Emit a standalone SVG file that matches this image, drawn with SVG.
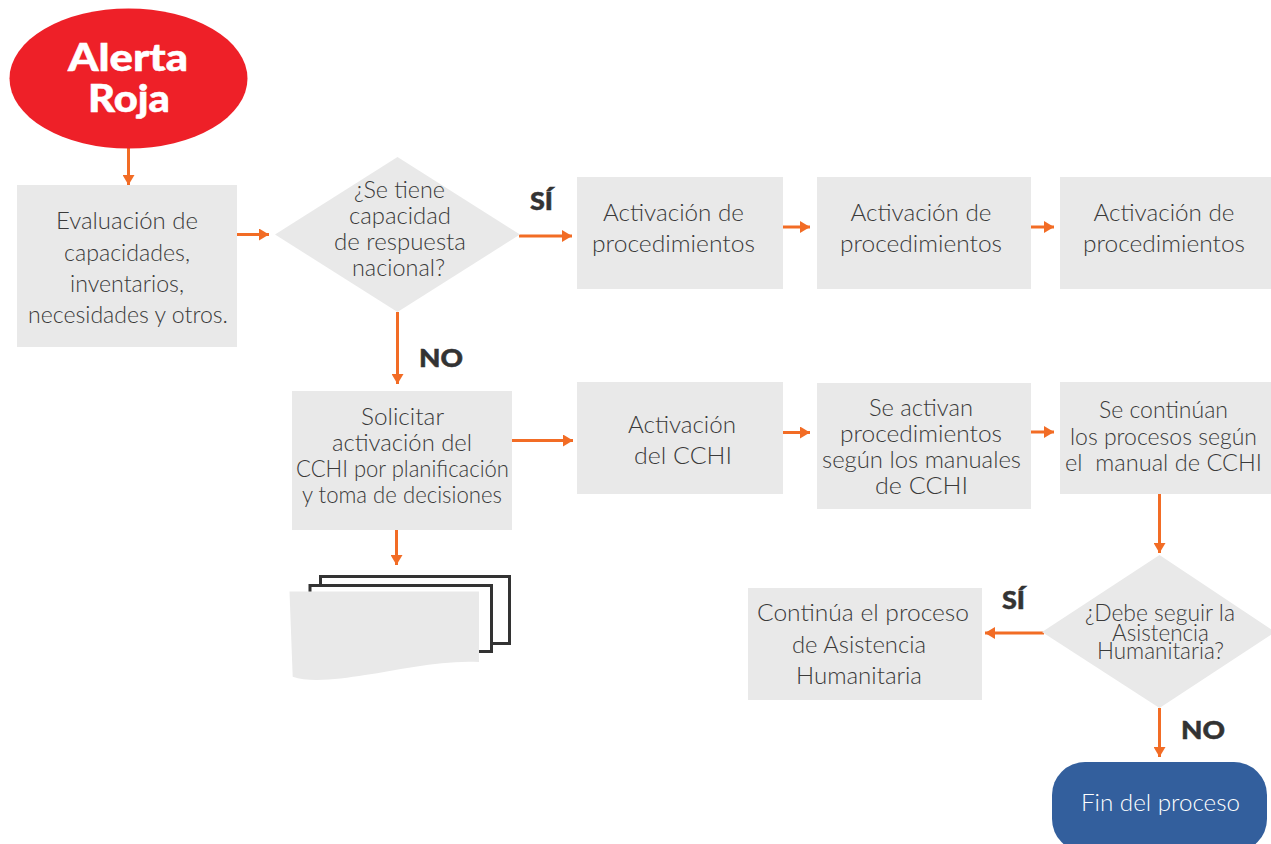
<svg xmlns="http://www.w3.org/2000/svg" width="1271" height="844" viewBox="0 0 1271 844">
<style>
.b{fill:#e9e9e9}
.t{font-family:Lato,"Open Sans","Liberation Sans",sans-serif;font-weight:300;font-size:24px;fill:#3a3a3a;text-anchor:middle;white-space:pre}
.l{font-family:Lato,"Liberation Sans",sans-serif;font-weight:900;font-size:25px;fill:#333;stroke:#333;stroke-width:.5;text-anchor:middle}
.h{font-family:Lato,"Liberation Sans",sans-serif;font-weight:900;font-size:37px;fill:#fff;stroke:#fff;stroke-width:.5;text-anchor:middle}
.c{stroke:#f26c25;stroke-width:3;fill:none;marker-end:url(#a)}
.d{fill:#fff;stroke:#333;stroke-width:3}
</style>
<defs><marker id="a" markerUnits="userSpaceOnUse" markerWidth="12" markerHeight="12" refX="10" refY="6" orient="auto"><path d="M0 0L10 6L0 12Z" fill="#f26c25"/></marker></defs>
<rect width="1271" height="844" fill="#fff"/>
<g id="connectors">
<path class="c" d="M128.500 148V185"/>
<path class="c" d="M237 234.500H269"/>
<path class="c" d="M519 236H572"/>
<path class="c" d="M783 227H810"/>
<path class="c" d="M1031 227H1054"/>
<path class="c" d="M397.500 312V384"/>
<path class="c" d="M512 440.500H573"/>
<path class="c" d="M783 432.500H810"/>
<path class="c" d="M1031 432H1054"/>
<path class="c" d="M396.500 530V565"/>
<path class="c" d="M1159.500 494V553"/>
<path class="c" d="M1044 633H985"/>
<path class="c" d="M1159.500 708V757"/>
</g>
<g id="n-alerta"><ellipse cx="128.500" cy="78.500" rx="119" ry="70" fill="#ee2028"/><text class="h" x="128" y="71" textLength="120" lengthAdjust="spacingAndGlyphs">Alerta</text><text class="h" x="129" y="112" textLength="82" lengthAdjust="spacingAndGlyphs">Roja</text></g>
<g id="n-evaluacion"><rect class="b" x="17" y="185" width="220" height="162"/><text class="t" x="127" y="229" textLength="142" lengthAdjust="spacingAndGlyphs">Evaluación de</text><text class="t" x="127" y="261" textLength="126" lengthAdjust="spacingAndGlyphs">capacidades,</text><text class="t" x="127" y="292" textLength="114" lengthAdjust="spacingAndGlyphs">inventarios,</text><text class="t" x="128" y="323" textLength="200" lengthAdjust="spacingAndGlyphs">necesidades y otros.</text></g>
<g id="n-capacidad"><polygon class="b" points="397.500,157 520,234.500 397.500,312 275,234.500"/><text class="t" x="399.500" y="198" textLength="91" lengthAdjust="spacingAndGlyphs">¿Se tiene</text><text class="t" x="400" y="224" textLength="102" lengthAdjust="spacingAndGlyphs">capacidad</text><text class="t" x="400" y="250" textLength="132" lengthAdjust="spacingAndGlyphs">de respuesta</text><text class="t" x="398.500" y="276" textLength="93" lengthAdjust="spacingAndGlyphs">nacional?</text></g>
<text class="l" x="541.500" y="210" id="l-si1" textLength="23" lengthAdjust="spacingAndGlyphs">SÍ</text>
<g id="n-act1"><rect class="b" x="577" y="177" width="206" height="112"/><text class="t" x="673.500" y="221" textLength="141" lengthAdjust="spacingAndGlyphs">Activación de</text><text class="t" x="673.500" y="252" textLength="163" lengthAdjust="spacingAndGlyphs">procedimientos</text></g>
<g id="n-act2"><rect class="b" x="817" y="177" width="214" height="112"/><text class="t" x="921" y="221" textLength="141" lengthAdjust="spacingAndGlyphs">Activación de</text><text class="t" x="921" y="252" textLength="162" lengthAdjust="spacingAndGlyphs">procedimientos</text></g>
<g id="n-act3"><rect class="b" x="1060" y="177" width="211" height="112"/><text class="t" x="1164" y="221" textLength="141" lengthAdjust="spacingAndGlyphs">Activación de</text><text class="t" x="1164" y="252" textLength="162" lengthAdjust="spacingAndGlyphs">procedimientos</text></g>
<text class="l" x="441" y="367" id="l-no1" textLength="44" lengthAdjust="spacingAndGlyphs">NO</text>
<g id="n-solicitar"><rect class="b" x="292" y="391" width="220" height="139"/><text class="t" x="402.500" y="425" textLength="83" lengthAdjust="spacingAndGlyphs">Solicitar</text><text class="t" x="402" y="451" textLength="140" lengthAdjust="spacingAndGlyphs">activación del</text><text class="t" x="402.500" y="477" textLength="213" lengthAdjust="spacingAndGlyphs">CCHI por planificación</text><text class="t" x="402" y="503" textLength="200" lengthAdjust="spacingAndGlyphs">y toma de decisiones</text></g>
<g id="n-cchi"><rect class="b" x="577" y="382" width="206" height="112"/><text class="t" x="682" y="433" textLength="108" lengthAdjust="spacingAndGlyphs">Activación</text><text class="t" x="683" y="464" textLength="98" lengthAdjust="spacingAndGlyphs">del CCHI</text></g>
<g id="n-manuales"><rect class="b" x="817" y="383" width="214" height="126"/><text class="t" x="921" y="416" textLength="104" lengthAdjust="spacingAndGlyphs">Se activan</text><text class="t" x="921" y="442" textLength="162" lengthAdjust="spacingAndGlyphs">procedimientos</text><text class="t" x="921.500" y="468" textLength="199" lengthAdjust="spacingAndGlyphs">según los manuales</text><text class="t" x="921.500" y="494" textLength="93" lengthAdjust="spacingAndGlyphs">de CCHI</text></g>
<g id="n-continuan"><rect class="b" x="1060" y="382" width="211" height="112"/><text class="t" x="1163.500" y="418" textLength="129" lengthAdjust="spacingAndGlyphs">Se continúan</text><text class="t" x="1163.500" y="445" textLength="187" lengthAdjust="spacingAndGlyphs">los procesos según</text><text class="t" x="1163.500" y="471" textLength="197" lengthAdjust="spacingAndGlyphs">el  manual de CCHI</text></g>
<g id="n-docs"><rect class="d" x="320.500" y="576.500" width="189" height="67"/><rect class="d" x="310" y="585.500" width="181.500" height="66"/><path class="b" d="M289.500 591.500H479V662C440 660 400 670 365 675C340 679 310 683 292.700 676.700Z"/></g>
<g id="n-debe"><polygon class="b" points="1159.500,555 1275,632 1159.500,708 1042,632"/><text class="t" x="1160" y="621" textLength="150" lengthAdjust="spacingAndGlyphs">¿Debe seguir la</text><text class="t" x="1160.500" y="641" textLength="97" lengthAdjust="spacingAndGlyphs">Asistencia</text><text class="t" x="1160.500" y="659" textLength="127" lengthAdjust="spacingAndGlyphs">Humanitaria?</text></g>
<g id="n-continua"><rect class="b" x="748" y="588" width="234" height="112"/><text class="t" x="863" y="621" textLength="212" lengthAdjust="spacingAndGlyphs">Continúa el proceso</text><text class="t" x="859" y="653" textLength="134" lengthAdjust="spacingAndGlyphs">de Asistencia</text><text class="t" x="859" y="684" textLength="126" lengthAdjust="spacingAndGlyphs">Humanitaria</text></g>
<text class="l" x="1013.500" y="609" id="l-si2" textLength="23" lengthAdjust="spacingAndGlyphs">SÍ</text>
<text class="l" x="1203" y="739" id="l-no2" textLength="44" lengthAdjust="spacingAndGlyphs">NO</text>
<g id="n-fin"><rect x="1052" y="762" width="215" height="90" rx="33" fill="#335f9d"/><text class="t" x="1160.500" y="811" textLength="159" lengthAdjust="spacingAndGlyphs" style="fill:#fff">Fin del proceso</text></g>
</svg>
